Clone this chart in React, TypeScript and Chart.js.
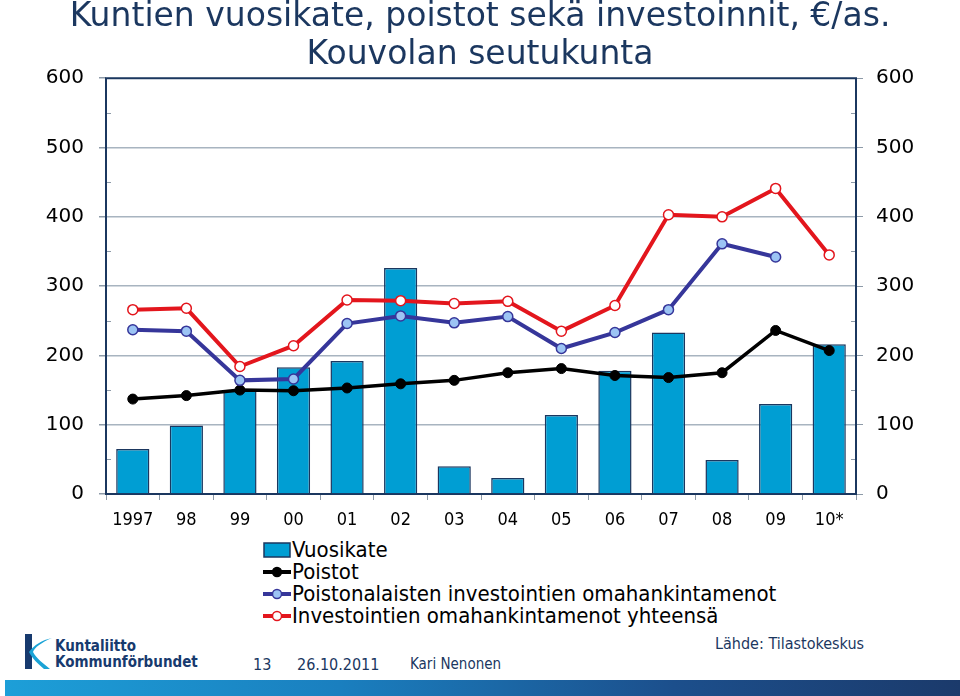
import React, { useEffect, useRef } from "react";
import { Chart, registerables } from "chart.js";

Chart.register(...registerables);

const titleLines = ["Kuntien vuosikate, poistot sekä investoinnit, €/as.", "Kouvolan seutukunta"];
const categories = ["1997", "98", "99", "00", "01", "02", "03", "04", "05", "06", "07", "08", "09", "10*"];
const vuosikate = [65, 99, 150, 183, 192, 326, 40, 23, 114, 178, 233, 49, 130, 216];
const poistot = [137, 142, 150, 149, 153, 159, 164, 175, 181, 171, 168, 175, 236, 207];
const poistonalaiset = [237, 235, 164, 166, 246, 257, 247, 256, 210, 233, 266, 361, 342, null];
const investoinnit = [266, 268, 184, 214, 280, 279, 275, 278, 235, 272, 403, 400, 441, 345];
const seriesNames = [
  "Vuosikate",
  "Poistot",
  "Poistonalaisten investointien omahankintamenot",
  "Investointien omahankintamenot yhteensä",
];
const yMin = 0;
const yMax = 600;
const yLabelStep = 100;
const yMinorStep = 50;
const sourceText = "Lähde: Tilastokeskus";
const footerItems = ["13", "26.10.2011", "Kari Nenonen"];

const NAVY = "#1b375f";
const GRID = "#a8b4c0";
const TICKC = "#8d9aa8";
const BAR = "#009ed3";
const RED = "#e3161d";
const BLUE = "#36369a";
const LIGHTBLUE = "#9cc4f4";

const boxPlugin = {
  id: "boxPlugin",
  beforeDatasetsDraw(chart: any) {
    const { ctx, chartArea } = chart;
    const { left, right, top, bottom } = chartArea;
    const ys = chart.scales.y;
    ctx.save();
    ctx.strokeStyle = TICKC;
    ctx.lineWidth = 1;
    for (let v = yMin + yMinorStep; v < yMax; v += yLabelStep) {
      const py = Math.round(ys.getPixelForValue(v)) + 0.5;
      ctx.beginPath();
      ctx.moveTo(left, py);
      ctx.lineTo(left + 5, py);
      ctx.moveTo(right - 5, py);
      ctx.lineTo(right, py);
      ctx.stroke();
    }
    ctx.strokeStyle = NAVY;
    ctx.lineWidth = 2;
    ctx.strokeRect(left, top, right - left, bottom - top);
    ctx.restore();
  },
};

function LegendSymbol({ kind }: { kind: number }) {
  if (kind === 0) {
    return (
      <svg width="28" height="22" style={{ display: "block" }}>
        <rect x="1" y="4" width="26" height="14" fill={BAR} stroke={NAVY} strokeWidth="1.5" />
      </svg>
    );
  }
  const color = kind === 1 ? "#000" : kind === 2 ? BLUE : RED;
  const fill = kind === 1 ? "#000" : kind === 2 ? LIGHTBLUE : "#fff";
  return (
    <svg width="28" height="22" style={{ display: "block" }}>
      <line x1="0" y1="11" x2="28" y2="11" stroke={color} strokeWidth="4" />
      <circle cx="14" cy="11" r="4.5" fill={fill} stroke={color} strokeWidth="1.5" />
    </svg>
  );
}

export default function App() {
  const canvasRef = useRef<HTMLCanvasElement | null>(null);

  useEffect(() => {
    const canvas = canvasRef.current;
    if (!canvas) return;
    const yGridColor = (c: any) => {
      const v = c.tick ? c.tick.value : 0;
      return v % yLabelStep === 0 && v !== yMin && v !== yMax ? GRID : "transparent";
    };
    const yTickColor = (c: any) => {
      const v = c.tick ? c.tick.value : 0;
      return v % yLabelStep === 0 ? TICKC : "transparent";
    };
    const yTickLabel = (v: any) => (Number(v) % yLabelStep === 0 ? String(v) : "");
    const chart = new Chart(canvas, {
      type: "bar",
      data: {
        labels: categories,
        datasets: [
          {
            type: "line",
            label: seriesNames[3],
            data: investoinnit,
            borderColor: RED,
            backgroundColor: "#ffffff",
            borderWidth: 4,
            pointRadius: 5,
            pointBorderWidth: 1.5,
            pointBorderColor: RED,
            pointBackgroundColor: "#ffffff",
            order: 1,
            yAxisID: "y",
          },
          {
            type: "line",
            label: seriesNames[2],
            data: poistonalaiset,
            borderColor: BLUE,
            backgroundColor: LIGHTBLUE,
            borderWidth: 4,
            pointRadius: 5,
            pointBorderWidth: 1.5,
            pointBorderColor: BLUE,
            pointBackgroundColor: LIGHTBLUE,
            order: 2,
            yAxisID: "y",
          },
          {
            type: "line",
            label: seriesNames[1],
            data: poistot,
            borderColor: "#000000",
            backgroundColor: "#000000",
            borderWidth: 3.5,
            pointRadius: 5,
            pointBorderWidth: 1,
            pointBorderColor: "#000000",
            pointBackgroundColor: "#000000",
            order: 3,
            yAxisID: "y",
          },
          {
            type: "bar",
            label: seriesNames[0],
            data: vuosikate,
            backgroundColor: BAR,
            borderColor: NAVY,
            borderWidth: 1.5,
            barPercentage: 0.62,
            categoryPercentage: 1,
            order: 4,
            yAxisID: "y",
          },
        ] as any,
      },
      options: {
        responsive: false,
        devicePixelRatio: 1,
        animation: false,
        layout: { padding: 0 },
        plugins: {
          legend: { display: false },
          tooltip: { enabled: false },
          title: {
            display: true,
            text: titleLines,
            color: NAVY,
            font: { family: "'DejaVu Sans', sans-serif", size: 33, weight: "normal", lineHeight: 1.14 },
            padding: { top: -1, bottom: 4 },
          },
        },
        scales: {
          x: {
            offset: true,
            grid: {
              display: true,
              offset: true,
              drawOnChartArea: false,
              drawTicks: true,
              tickLength: 6,
              color: TICKC,
            },
            border: { display: false },
            ticks: {
              color: "#000",
              padding: 10,
              maxRotation: 0,
              autoSkip: false,
              font: { family: "'DejaVu Sans Condensed', 'DejaVu Sans', sans-serif", size: 18 },
            },
            afterFit: (s: any) => {
              s.height = 40;
            },
          },
          y: {
            position: "left",
            min: yMin,
            max: yMax,
            grid: {
              drawOnChartArea: true,
              drawTicks: true,
              tickLength: 7,
              color: yGridColor,
              tickColor: yTickColor,
              lineWidth: 1.5,
            },
            border: { display: false },
            ticks: {
              stepSize: yMinorStep,
              padding: 15,
              color: "#000",
              callback: yTickLabel,
              font: { family: "'DejaVu Sans', sans-serif", size: 20 },
            },
            afterFit: (s: any) => {
              s.width = 106;
            },
          },
          y2: {
            position: "right",
            min: yMin,
            max: yMax,
            grid: {
              drawOnChartArea: false,
              drawTicks: true,
              tickLength: 7,
              color: yGridColor,
              tickColor: yTickColor,
            },
            border: { display: false },
            ticks: {
              stepSize: yMinorStep,
              padding: 13,
              color: "#000",
              callback: yTickLabel,
              font: { family: "'DejaVu Sans', sans-serif", size: 20 },
            },
            afterFit: (s: any) => {
              s.width = 104;
            },
          },
        },
      } as any,
      plugins: [boxPlugin],
    });
    return () => chart.destroy();
  }, []);

  const legendFont = "'DejaVu Sans Condensed', 'DejaVu Sans', sans-serif";

  return (
    <div
      style={{
        position: "absolute",
        left: 0,
        top: 0,
        width: 960,
        height: 696,
        background: "#fff",
        overflow: "hidden",
      }}
    >
      <canvas ref={canvasRef} width={960} height={534} style={{ position: "absolute", left: 0, top: 0, width: 960, height: 534 }} />
      <div style={{ position: "absolute", left: 263, top: 539 }}>
        {seriesNames.map((name, i) => (
          <div key={name} style={{ display: "flex", alignItems: "center", height: 22 }}>
            <LegendSymbol kind={i} />
            <span style={{ fontFamily: legendFont, fontSize: 22, color: "#000", marginLeft: 1, lineHeight: "22px", whiteSpace: "nowrap" }}>
              {name}
            </span>
          </div>
        ))}
      </div>
      <div
        style={{
          position: "absolute",
          left: 715,
          top: 634,
          fontFamily: legendFont,
          fontSize: 16,
          color: NAVY,
          whiteSpace: "nowrap",
        }}
      >
        {sourceText}
      </div>
      <div style={{ position: "absolute", left: 253, top: 655, fontFamily: legendFont, fontSize: 16, color: NAVY, whiteSpace: "nowrap" }}>
        {footerItems[0]}
      </div>
      <div style={{ position: "absolute", left: 297, top: 655, fontFamily: legendFont, fontSize: 16, color: NAVY, whiteSpace: "nowrap" }}>
        {footerItems[1]}
      </div>
      <div style={{ position: "absolute", left: 410, top: 655, fontFamily: legendFont, fontSize: 15, color: NAVY, whiteSpace: "nowrap" }}>
        {footerItems[2]}
      </div>
      <svg width="60" height="44" style={{ position: "absolute", left: 20, top: 630 }}>
        <rect x="5" y="4" width="7" height="35" fill="#173a6e" />
        <path d="M32 8 C22 12 14 18 13 22 C16 28 24 34 30 39 L24 39 C18 34 12 28 9 22 C14 15 22 10 32 8 Z" fill="#1aa3d6" />
      </svg>
      <div
        style={{
          position: "absolute",
          left: 55,
          top: 638,
          fontFamily: legendFont,
          fontSize: 15,
          fontWeight: "bold",
          color: "#173a6e",
          lineHeight: "16px",
          whiteSpace: "nowrap",
        }}
      >
        <div>Kuntaliitto</div>
        <div>Kommunförbundet</div>
      </div>
      <div
        style={{
          position: "absolute",
          left: 5,
          top: 680,
          width: 955,
          height: 16,
          background: "linear-gradient(to right, #1d9fd8 0%, #1a7fbf 35%, #1c4f8c 70%, #1b3a6b 100%)",
        }}
      />
    </div>
  );
}
